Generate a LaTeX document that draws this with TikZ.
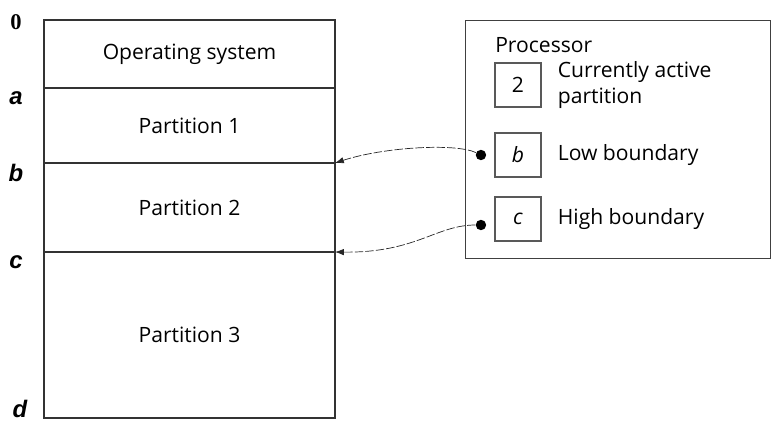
\documentclass[tikz,border=0pt]{standalone}
\usepackage{fontspec}
\setmainfont{Open Sans}
\newfontfamily\addrfont{Liberation Sans}
\newfontfamily\zerofont{Liberation Serif}
\usetikzlibrary{positioning,arrows.meta}

\begin{document}
\begin{tikzpicture}[
  font=\fontsize{15}{18}\selectfont,
  part/.style={draw=black!80, line width=1pt, minimum width=7.275cm, inner sep=0pt, outer sep=0pt},
  reg/.style={draw=black!65, line width=0.8pt, minimum width=1.15cm, minimum height=1.1cm, inner sep=0pt},
  addr/.style={font=\addrfont\fontsize{17}{20}\selectfont\bfseries\itshape},
  regdot/.style={circle, fill=black, inner sep=0pt, minimum size=0.26cm},
  link/.style={black!85, line width=0.5pt, dash pattern=on 6pt off 1.5pt, -{Latex[length=2.2mm,width=1.6mm]}}
]
\useasboundingbox (0,0) rectangle (19.325,10.525);

% Pamiec operacyjna (partycje)
\node[part, minimum height=1.7cm, anchor=north west] (os) at (1.1,10.025) {Operating system};
\node[part, minimum height=1.875cm, below=0pt of os] (p1) {Partition 1};
\node[part, minimum height=2.225cm, below=0pt of p1] (p2) {Partition 2};
\node[part, minimum height=4.15cm, below=0pt of p2] (p3) {Partition 3};

% Adresy granic
\node[font=\zerofont\fontsize{16}{18}\selectfont\bfseries] (addr0) at ([xshift=-0.7cm,yshift=-0.05cm]os.north west) {0};
\node[addr] (addra) at ([xshift=-0.7cm,yshift=-0.25cm]os.south west) {a};
\node[addr] (addrb) at ([xshift=-0.7cm,yshift=-0.25cm]p1.south west) {b};
\node[addr] (addrc) at ([xshift=-0.7cm,yshift=-0.25cm]p2.south west) {c};
\node[addr] (addrd) at ([xshift=-0.6cm,yshift=0.22cm]p3.south west) {d};

% Procesor
\node[draw=black!75, line width=1pt, minimum width=7.625cm, minimum height=5.95cm, anchor=north west] (proc) at (11.625,10.025) {};
\node[anchor=west, inner sep=0pt] (proctitle) at (12.375,9.4) {Processor};

% Rejestry
\node[reg] (reg2) at (12.95,8.4) {2};
\node[reg] (regb) at (12.95,6.65) {\itshape b};
\node[reg] (regc) at (12.95,5.05) {\itshape c};

\node[right=0.4cm of reg2, inner sep=0pt, align=left] (lbl2) {Currently active\\partition};
\node[right=0.4cm of regb, inner sep=0pt] (lblb) {Low boundary};
\node[right=0.4cm of regc, inner sep=0pt] (lblc) {High boundary};

% Wskazania granic
\node[regdot, left=0.2cm of regb] (dotb) {};
\node[regdot, left=0.2cm of regc, yshift=-0.15cm] (dotc) {};
\draw[link] (dotb) .. controls (11.4,6.95) and (9.6,6.85) .. (p1.south east);
\draw[link] (dotc) .. controls (10.9,4.9) and (10.4,4.2) .. (p2.south east);
\end{tikzpicture}
\end{document}
